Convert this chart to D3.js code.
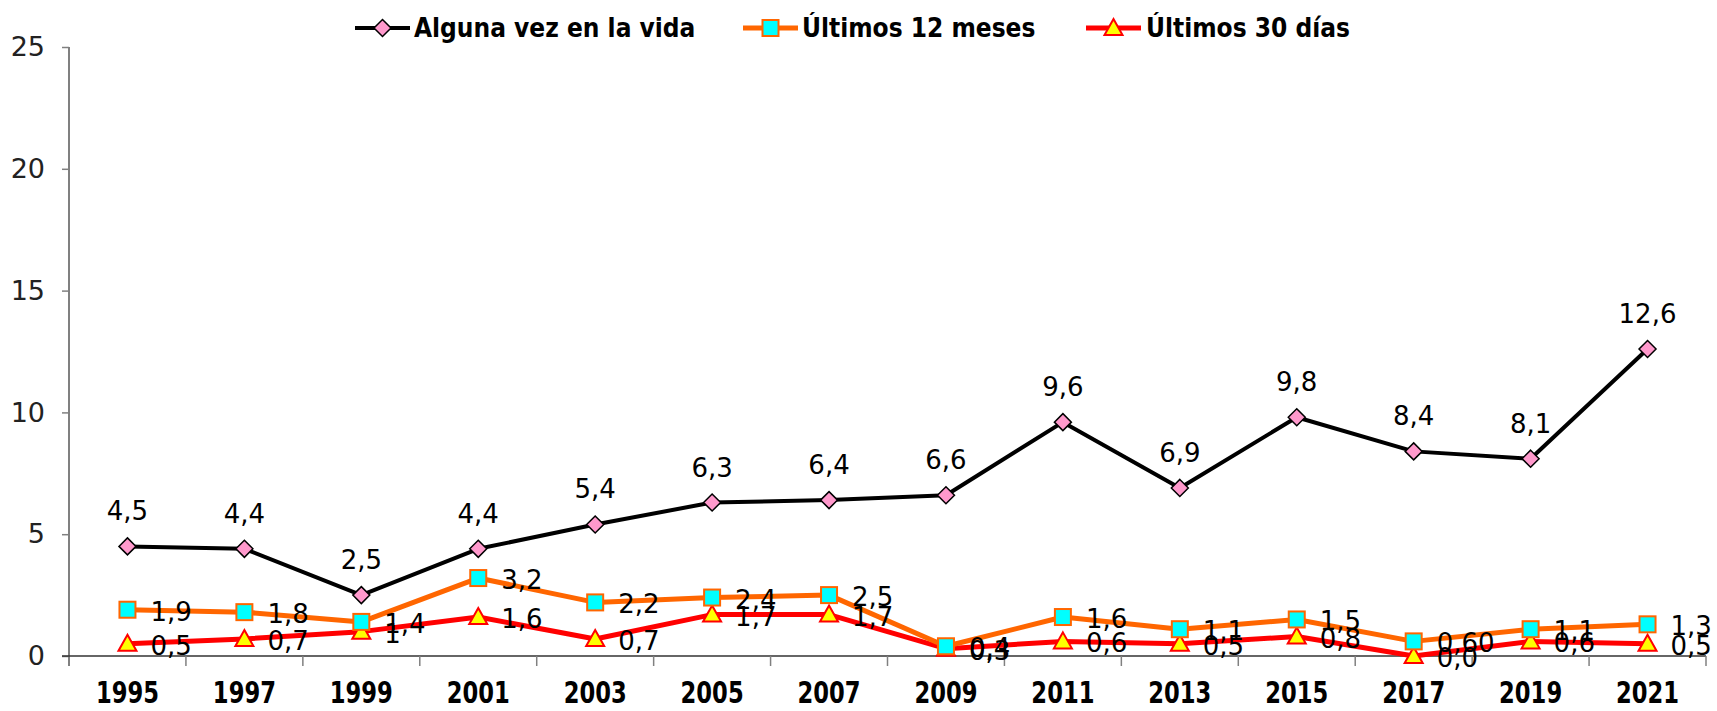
<!DOCTYPE html>
<html>
<head>
<meta charset="utf-8">
<script src="https://cdn.jsdelivr.net/npm/d3@7"></script>
<style>
  html, body { margin: 0; padding: 0; background: #fff; }
  svg { display: block; }
</style>
</head>
<body>
<svg id="chart" width="1717" height="711"></svg>
<script>
// Survey years (x categories)
const years = ["1995","1997","1999","2001","2003","2005","2007","2009","2011","2013","2015","2017","2019","2021"];

// Prevalence (%) by reference period
const alguna = [4.5, 4.4, 2.5, 4.4, 5.4, 6.3, 6.4, 6.6, 9.6, 6.9, 9.8, 8.4, 8.1, 12.6];
const ultimos12 = [1.9, 1.8, 1.4, 3.2, 2.2, 2.4, 2.5, 0.4, 1.6, 1.1, 1.5, 0.6, 1.1, 1.3];
const ultimos30 = [0.5, 0.7, 1, 1.6, 0.7, 1.7, 1.7, 0.3, 0.6, 0.5, 0.8, 0.0, 0.6, 0.5];

// Decimals shown in each point label
const decAlguna = [1,1,1,1,1,1,1,1,1,1,1,1,1,1];
const dec12 = [1,1,1,1,1,1,1,1,1,1,1,2,1,1];
const dec30 = [1,1,0,1,1,1,1,1,1,1,1,1,1,1];

const yTicks = [0, 5, 10, 15, 20, 25];

const seriesNames = ["Alguna vez en la vida", "Últimos 12 meses", "Últimos 30 días"];

const svg = d3.select("#chart");

const plot = { left: 69, right: 1706, top: 47, bottom: 656 };

const x = d3.scaleBand().domain(years).range([plot.left, plot.right]).paddingInner(0).paddingOuter(0);
const y = d3.scaleLinear().domain([0, 25]).range([plot.bottom, plot.top]);
const cx = d => x(d) + x.bandwidth() / 2;

const fmt = (v, dec) => v.toFixed(dec).replace(".", ",");

const labelFont = "'DejaVu Sans', Verdana, sans-serif";
const boldFont = "'Liberation Sans Narrow', 'DejaVu Sans Condensed', 'Arial Narrow', sans-serif";

// Y axis
const yAxis = d3.axisLeft(y).tickValues(yTicks).tickSize(7).tickPadding(17).tickFormat(d => d);
const gy = svg.append("g").attr("transform", `translate(${plot.left},0)`).call(yAxis);
gy.select(".domain").attr("stroke", "#808080").attr("stroke-width", 2).attr("d", `M0,${plot.top}V${plot.bottom + 10}`);
gy.selectAll(".tick line").attr("stroke", "#808080").attr("stroke-width", 1.5);
gy.selectAll(".tick text").attr("font-family", labelFont).attr("font-size", 27).attr("fill", "#222");

// X axis: ticks between categories
const gx = svg.append("g").attr("transform", `translate(0,${plot.bottom})`);
gx.append("line").attr("x1", plot.left - 7).attr("x2", plot.right).attr("y1", 0).attr("y2", 0)
  .attr("stroke", "#333").attr("stroke-width", 1.5);
const boundaries = years.map(d => x(d) + x.bandwidth());
gx.selectAll("line.sep").data(boundaries).join("line").attr("class", "sep")
  .attr("x1", d => d).attr("x2", d => d).attr("y1", 0).attr("y2", 10)
  .attr("stroke", "#808080").attr("stroke-width", 1.5);
gx.selectAll("text").data(years).join("text")
  .attr("transform", d => `translate(${cx(d)},47) scale(0.84,1)`)
  .attr("text-anchor", "middle")
  .attr("font-family", boldFont).attr("font-weight", "bold").attr("font-size", 30)
  .attr("fill", "#000").text(d => d);

// Series definitions
const series = [
  { name: seriesNames[0], values: alguna, dec: decAlguna, line: "#000000", width: 4, fill: "#FF99CC", stroke: "#000000", shape: "diamond", labelPos: "above" },
  { name: seriesNames[1], values: ultimos12, dec: dec12, line: "#FF6600", width: 5, fill: "#00FFFF", stroke: "#FF6600", shape: "square", labelPos: "right" },
  { name: seriesNames[2], values: ultimos30, dec: dec30, line: "#FF0000", width: 5, fill: "#FFFF00", stroke: "#FF0000", shape: "triangle", labelPos: "right" }
];

function drawMarker(g, shape, fill, stroke) {
  if (shape === "diamond") {
    g.append("path").attr("d", "M0,-8.5L8.5,0L0,8.5L-8.5,0Z").attr("fill", fill).attr("stroke", stroke).attr("stroke-width", 1.5);
  } else if (shape === "square") {
    g.append("rect").attr("x", -8).attr("y", -8).attr("width", 16).attr("height", 16)
      .attr("fill", fill).attr("stroke", stroke).attr("stroke-width", 2);
  } else {
    g.append("path").attr("d", "M0,-9L9,7L-9,7Z").attr("fill", fill).attr("stroke", stroke).attr("stroke-width", 2);
  }
}

const lineGen = d3.line().x((d, i) => cx(years[i])).y(d => y(d));

// Draw from the bottom series upward so the lifetime line is on top
[...series].reverse().forEach(s => {
  const g = svg.append("g");
  g.append("path").datum(s.values).attr("d", lineGen)
    .attr("fill", "none").attr("stroke", s.line).attr("stroke-width", s.width).attr("stroke-linejoin", "round");
  s.values.forEach((v, i) => {
    const m = g.append("g").attr("transform", `translate(${cx(years[i])},${y(v)})`);
    drawMarker(m, s.shape, s.fill, s.stroke);
  });
});

// Point labels
series.forEach(s => {
  svg.append("g").selectAll("text").data(s.values).join("text")
    .attr("x", (v, i) => s.labelPos === "above" ? cx(years[i]) : cx(years[i]) + 23)
    .attr("y", v => s.labelPos === "above" ? y(v) - 26 : y(v) + 11)
    .attr("text-anchor", s.labelPos === "above" ? "middle" : "start")
    .attr("font-family", labelFont).attr("font-size", 26).attr("fill", "#000")
    .text((v, i) => fmt(v, s.dec[i]));
});

// Legend
const legendItems = [
  { s: series[0], x: 355, tx: 414 },
  { s: series[1], x: 743, tx: 802 },
  { s: series[2], x: 1086, tx: 1146 }
];
const legendY = 28;
legendItems.forEach(it => {
  const g = svg.append("g");
  g.append("line").attr("x1", it.x).attr("x2", it.x + 55).attr("y1", legendY).attr("y2", legendY)
    .attr("stroke", it.s.line).attr("stroke-width", it.s.width);
  const m = g.append("g").attr("transform", `translate(${it.x + 27.5},${legendY})`);
  drawMarker(m, it.s.shape, it.s.fill, it.s.stroke);
  g.append("text").attr("x", it.tx).attr("y", 37)
    .attr("font-family", boldFont).attr("font-weight", "bold").attr("font-size", 26)
    .attr("fill", "#000").text(it.s.name);
});
</script>
</body>
</html>
